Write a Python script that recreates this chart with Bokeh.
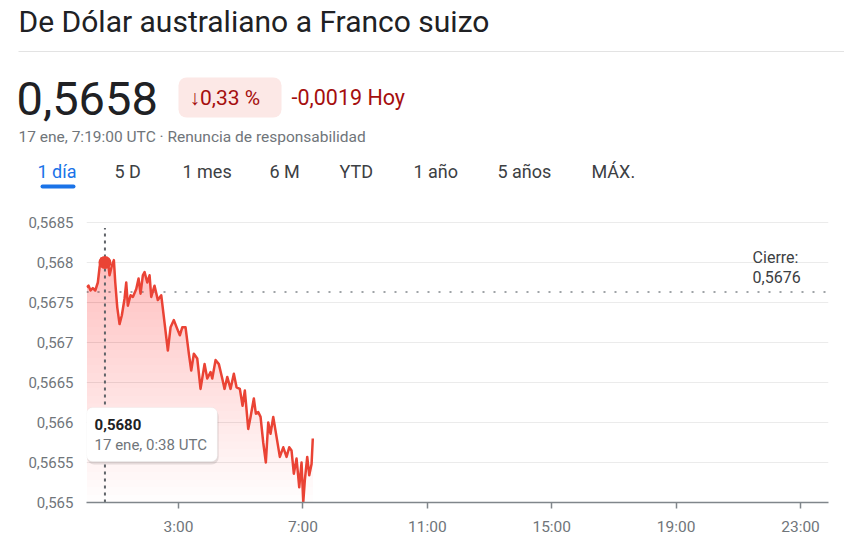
import numpy as np
from bokeh.plotting import figure
from bokeh.layouts import column
from bokeh.models import FixedTicker, Span, BoxAnnotation, Label, Range1d
from bokeh.embed import file_html
from bokeh.resources import INLINE
from bokeh.core.properties import value

# ---------------- data ----------------
title_text = "De Dólar australiano a Franco suizo"
price_text = "0,5658"
pct_text = "↓0,33 %"
chg_text = "-0,0019 Hoy"
sub_text = "17 ene, 7:19:00 UTC · Renuncia de responsabilidad"
tabs = ["1 día", "5 D", "1 mes", "6 M", "YTD", "1 año", "5 años", "MÁX."]

hours = [0.05, 0.106, 0.170, 0.244, 0.322, 0.405, 0.460, 0.514, 0.621, 0.727, 0.781,
         0.855, 0.920, 0.965, 1.029, 1.103, 1.177, 1.264, 1.318, 1.370, 1.457, 1.531,
         1.640, 1.714, 1.778, 1.852, 1.907, 1.994, 2.068, 2.122, 2.228, 2.334, 2.444,
         2.527, 2.656, 2.743, 2.849, 2.958, 3.042, 3.119, 3.225, 3.331, 3.408, 3.492,
         3.601, 3.707, 3.836, 3.923, 4.029, 4.084, 4.190, 4.296, 4.405, 4.479, 4.566,
         4.672, 4.778, 4.865, 4.971, 5.058, 5.132, 5.241, 5.315, 5.421, 5.486, 5.563,
         5.637, 5.723, 5.807, 5.884, 5.958, 6.045, 6.151, 6.257, 6.367, 6.473, 6.559,
         6.633, 6.707, 6.794, 6.881, 6.955, 7.010, 7.061, 7.138, 7.203, 7.277, 7.317]
rates = [0.56769, 0.56771, 0.56765, 0.56768, 0.56765, 0.56775, 0.56794, 0.56805, 0.56804,
         0.56803, 0.56784, 0.56796, 0.56803, 0.56775, 0.56744, 0.56723, 0.56734, 0.56755,
         0.56775, 0.56746, 0.56759, 0.56757, 0.56767, 0.56780, 0.56761, 0.56784, 0.56788,
         0.56775, 0.56784, 0.56757, 0.56771, 0.56753, 0.56759, 0.56732, 0.56690, 0.56719,
         0.56728, 0.56717, 0.56709, 0.56719, 0.56719, 0.56686, 0.56665, 0.56686, 0.56680,
         0.56642, 0.56673, 0.56655, 0.56663, 0.56655, 0.56678, 0.56673, 0.56655, 0.56642,
         0.56657, 0.56642, 0.56661, 0.56644, 0.56642, 0.56621, 0.56640, 0.56592, 0.56607,
         0.56630, 0.56611, 0.56613, 0.56607, 0.56575, 0.56550, 0.56600, 0.56586, 0.56607,
         0.56582, 0.56557, 0.56569, 0.56557, 0.56569, 0.56565, 0.56536, 0.56555, 0.56519,
         0.56550, 0.56500, 0.56528, 0.56557, 0.56534, 0.56548, 0.56580]

close_rate = 0.56763
close_texts = ["Cierre:", "0,5676"]
hover_hour = 0.633
hover_rate = 0.5680
hover_texts = ["0,5680", "17 ene, 0:38 UTC"]

y_ticks = [0.565, 0.5655, 0.566, 0.5665, 0.567, 0.5675, 0.568, 0.5685]
y_tick_labels = ["0,565", "0,5655", "0,566", "0,5665", "0,567", "0,5675", "0,568", "0,5685"]
x_ticks = [3, 7, 11, 15, 19, 23]
x_tick_labels = ["3:00", "7:00", "11:00", "15:00", "19:00", "23:00"]

# ---------------- styles ----------------
FONT = value("Roboto")
RED = "#ea4335"
DARK = "#202124"
GRAY = "#70757a"
W = 844
HDR_H = 200

# ---------------- header ----------------
hdr = figure(width=W, height=HDR_H, x_range=Range1d(0, W), y_range=Range1d(HDR_H, 0),
             output_backend="svg", toolbar_location=None, min_border=0,
             x_axis_location=None, y_axis_location=None)
hdr.grid.visible = False
hdr.outline_line_color = None
hdr.frame_align = False

def htext(x, y, t, size, color, style="normal"):
    hdr.text(x=[x], y=[y], text=[t], text_font=FONT, text_font_size=size,
             text_color=color, text_baseline="middle", text_align="left",
             text_font_style=style)

htext(18, 21, title_text, "30px", DARK)
hdr.segment(x0=[18], y0=[51], x1=[W], y1=[51], line_color="#e3e3e3", line_width=1)
htext(16, 98, price_text, "47px", DARK)
hdr.quad(left=[178], right=[281], top=[77], bottom=[117], fill_color="#fce8e6",
         line_color=None, border_radius=8)
htext(189, 97, pct_text, "21px", "#a50e0e")
htext(291, 97, chg_text, "21.5px", "#a50e0e")
htext(18, 136, sub_text, "15.5px", GRAY)

tab_x = [37, 114, 182, 269, 339, 413, 497, 591]
for i, t in enumerate(tabs):
    htext(tab_x[i], 171, t, "18px", "#1a73e8" if i == 0 else "#3c4043")
hdr.quad(left=[40], right=[75], top=[184], bottom=[188], fill_color="#1a73e8",
         line_color=None, border_radius=2)

# ---------------- chart ----------------
p = figure(frame_width=742, frame_height=288, x_range=Range1d(0.04, 23.9),
           y_range=Range1d(0.565, 0.5686), output_backend="svg", toolbar_location=None,
           min_border_left=86, min_border_right=16, min_border_top=14, min_border_bottom=39)
p.frame_align = False
p.outline_line_color = None
p.xgrid.visible = False
p.ygrid.ticker = FixedTicker(ticks=y_ticks)
p.ygrid.grid_line_color = "#ebebeb"
p.ygrid.grid_line_width = 1

p.yaxis.ticker = FixedTicker(ticks=y_ticks)
p.yaxis.major_label_overrides = {t: l for t, l in zip(y_ticks, y_tick_labels)}
p.yaxis.axis_line_color = None
p.yaxis.major_tick_line_color = None
p.yaxis.minor_tick_line_color = None
p.yaxis.major_label_standoff = 7
p.yaxis.major_label_text_font = "Roboto"
p.yaxis.major_label_text_font_size = "15px"
p.yaxis.major_label_text_color = GRAY

p.xaxis.ticker = FixedTicker(ticks=x_ticks)
p.xaxis.major_label_overrides = {t: l for t, l in zip(x_ticks, x_tick_labels)}
p.xaxis.axis_line_color = "#80868b"
p.xaxis.axis_line_width = 1.5
p.xaxis.major_tick_line_color = "#80868b"
p.xaxis.major_tick_line_width = 1.5
p.xaxis.major_tick_out = 6
p.xaxis.major_tick_in = 0
p.xaxis.minor_tick_line_color = None
p.xaxis.major_label_standoff = 9
p.xaxis.major_label_text_font = "Roboto"
p.xaxis.major_label_text_font_size = "15.5px"
p.xaxis.major_label_text_color = GRAY

# previous close dotted line
p.add_layout(Span(location=close_rate, dimension="width", line_color="#80868b",
                  line_width=1.5, line_dash="2 9", level="underlay"))

# gradient area under the line
h = np.array(hours)
r = np.array(rates)
base = y_ticks[0]
top = r.max()
N = 32
for L in np.linspace(base, top, N, endpoint=False):
    y1 = np.where(r > L, L, r)
    p.varea(x=h, y1=y1, y2=r, fill_color=RED, fill_alpha=0.013)

# hover crosshair
p.segment(x0=[hover_hour], y0=[base], x1=[hover_hour], y1=[0.56843],
          line_color="#5f6368", line_width=2, line_dash="3 4")

p.line(h, r, line_color=RED, line_width=2.5, line_join="round")
p.scatter([hover_hour], [hover_rate], size=13, fill_color=RED, line_color=None)

# close labels
p.add_layout(Label(x=21.46, y=0.56806, text=close_texts[0], text_font="Roboto",
                   text_font_size="16px", text_color="#3c4043", text_baseline="middle"))
p.add_layout(Label(x=21.46, y=0.567825, text=close_texts[1], text_font="Roboto",
                   text_font_size="16px", text_color="#3c4043", text_baseline="middle"))

# tooltip
p.add_layout(BoxAnnotation(left=0.06, right=4.29, top=0.566163, bottom=0.565475,
                           fill_color="#000000", fill_alpha=0.10, line_color=None,
                           border_radius=7, level="overlay"))
p.add_layout(BoxAnnotation(left=0.04, right=4.25, top=0.566188, bottom=0.565513,
                           fill_color="white", fill_alpha=1.0, line_color="#e0e0e0",
                           line_width=1, border_radius=6, level="overlay"))
p.add_layout(Label(x=0.30, y=0.565975, text=hover_texts[0], text_font="Roboto",
                   text_font_size="15px", text_color=DARK, text_font_style="bold",
                   text_baseline="middle", level="overlay"))
p.add_layout(Label(x=0.30, y=0.565725, text=hover_texts[1], text_font="Roboto",
                   text_font_size="15px", text_color=GRAY, text_baseline="middle",
                   level="overlay"))

layout = column(hdr, p, spacing=0)
open("out.html", "w").write(file_html(layout, INLINE))
